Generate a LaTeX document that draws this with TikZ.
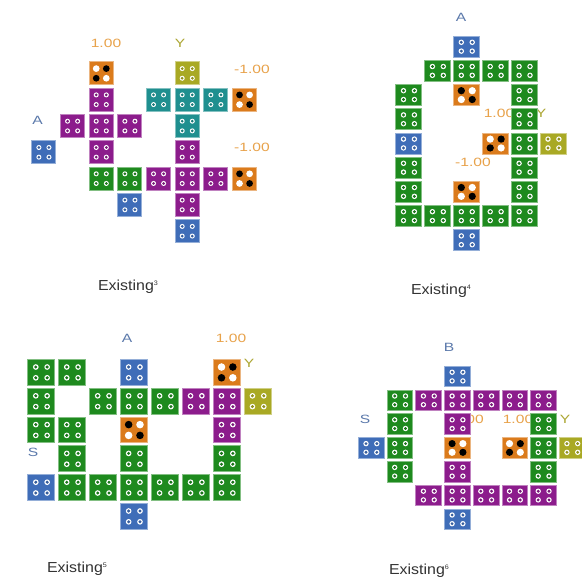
\documentclass[tikz,border=0pt]{standalone}
\usepackage{fontspec}
\setmainfont{Liberation Sans}
\definecolor{tgreen}{HTML}{1E8A1E}
\definecolor{tpurple}{HTML}{8C1C8C}
\definecolor{tblue}{HTML}{3F6DB8}
\definecolor{tteal}{HTML}{1F8F8F}
\definecolor{torange}{HTML}{DB7B1C}
\definecolor{tolive}{HTML}{A9A924}
\definecolor{lorange}{HTML}{E8A24A}
\definecolor{lolive}{HTML}{ACA632}
\definecolor{lblue}{HTML}{5B79AB}
\definecolor{capgray}{HTML}{333333}
\newcommand\Tile[3]{%
 \pgfmathsetmacro\xa{\ox+(#1)*\px}%
 \pgfmathsetmacro\ya{\oy+(#2)*\py}%
 \pgfmathsetmacro\sr{0.105*\tw}%
 \pgfmathsetmacro\si{0.062*\tw}%
 \fill[#3,draw=#3!55!white,line width=0.5pt] (\xa,\ya) rectangle ++(\tw,\tH);
 \foreach \u in {0.3,0.72}{\foreach \v in {0.3,0.72}{
   \fill[white] (\xa+\u*\tw,\ya+\v*\tH) circle[radius=\sr pt];
   \fill[#3!85!black] (\xa+\u*\tw,\ya+\v*\tH) circle[radius=\si pt];
 }}%
}
\newcommand\Dice[3]{%
 \pgfmathsetmacro\xa{\ox+(#1)*\px}%
 \pgfmathsetmacro\ya{\oy+(#2)*\py}%
 \pgfmathsetmacro\dr{0.14*\tw}%
 \ifnum#3=1 \def\ca{white}\def\cb{black}\else\def\ca{black}\def\cb{white}\fi
 \fill[torange,draw=torange!55!white,line width=0.5pt] (\xa,\ya) rectangle ++(\tw,\tH);
 \fill[\ca] (\xa+0.3*\tw,\ya+0.3*\tH) circle[radius=\dr pt];
 \fill[\cb] (\xa+0.72*\tw,\ya+0.3*\tH) circle[radius=\dr pt];
 \fill[\cb] (\xa+0.3*\tw,\ya+0.72*\tH) circle[radius=\dr pt];
 \fill[\ca] (\xa+0.72*\tw,\ya+0.72*\tH) circle[radius=\dr pt];
}
\newcommand\Sup[1]{\raisebox{0.75ex}{\fontsize{6.5}{7}\selectfont #1}}
\tikzset{
 lab/.style={font=\fontsize{12}{14}\selectfont,inner sep=0pt,xscale=1.3},
 olab/.style={lab,text=lorange},
 ylab/.style={lab,text=lolive},
 blab/.style={lab,text=lblue},
 captext/.style={font=\fontsize{14.5}{16}\selectfont,text=capgray,inner sep=0pt,xscale=1.1}
}
\begin{document}
\begin{tikzpicture}[x=1pt,y=-1pt]
\useasboundingbox (0,0) rectangle (582,579);
\fill[white] (0,0) rectangle (582,579);
% ---------- Q1 ----------
\node[olab] (q1l1) at (106,43.5) {1.00};
\node[ylab] (q1y) at (180,43.5) {Y};
\node[olab] (q1l2) at (252,69) {-1.00};
\node[blab] (q1a) at (37.5,120.5) {A};
\node[olab] (q1l3) at (252,147) {-1.00};
\def\ox{31.7}\def\oy{61.7}\def\px{28.66}\def\py{26.3}\def\tw{24}\def\tH{23}
\foreach \c/\r/\k in {5/0/tolive,2/1/tpurple,4/1/tteal,5/1/tteal,6/1/tteal,
  1/2/tpurple,2/2/tpurple,3/2/tpurple,5/2/tteal,0/3/tblue,2/3/tpurple,5/3/tpurple,
  2/4/tgreen,3/4/tgreen,4/4/tpurple,5/4/tpurple,6/4/tpurple,3/5/tblue,5/5/tpurple,5/6/tblue}
  {\Tile{\c}{\r}{\k}}
\Dice{2}{0}{1}\Dice{7}{1}{2}\Dice{7}{4}{2}
\node[captext] (c3) at (128,287) {Existing\Sup{3}};
% ---------- Q2 ----------
\node[blab] (q2a) at (461,17) {A};
\node[olab] (q2l1) at (499,113) {1.00};
\node[ylab] (q2y) at (541,113) {Y};
\node[olab] (q2l2) at (473,162) {-1.00};
\def\ox{395.7}\def\oy{36}\def\px{28.9}\def\py{24.2}\def\tw{26}\def\tH{21}
\foreach \c/\r/\k in {2/0/tblue,1/1/tgreen,2/1/tgreen,3/1/tgreen,4/1/tgreen,
  0/2/tgreen,4/2/tgreen,0/3/tgreen,4/3/tgreen,0/4/tblue,4/4/tgreen,5/4/tolive,
  0/5/tgreen,4/5/tgreen,0/6/tgreen,4/6/tgreen,
  0/7/tgreen,1/7/tgreen,2/7/tgreen,3/7/tgreen,4/7/tgreen,2/8/tblue}
  {\Tile{\c}{\r}{\k}}
\Dice{2}{2}{2}\Dice{3}{4}{1}\Dice{2}{6}{2}
\node[captext] (c4) at (441,291) {Existing\Sup{4}};
% ---------- Q3 ----------
\node[blab] (q3a) at (127,338) {A};
\node[olab] (q3l1) at (231,338) {1.00};
\node[ylab] (q3y) at (249,363.5) {Y};
\node[blab] (q3s) at (33,452) {S};
\def\ox{27.7}\def\oy{359.3}\def\px{30.95}\def\py{28.8}\def\tw{27}\def\tH{25.7}
\foreach \c/\r/\k in {0/0/tgreen,1/0/tgreen,3/0/tblue,
  0/1/tgreen,2/1/tgreen,3/1/tgreen,4/1/tgreen,5/1/tpurple,6/1/tpurple,7/1/tolive,
  0/2/tgreen,1/2/tgreen,6/2/tpurple,1/3/tgreen,3/3/tgreen,6/3/tgreen,
  0/4/tblue,1/4/tgreen,2/4/tgreen,3/4/tgreen,4/4/tgreen,5/4/tgreen,6/4/tgreen,3/5/tblue}
  {\Tile{\c}{\r}{\k}}
\Dice{6}{0}{1}\Dice{3}{2}{2}
\node[captext] (c5) at (77,569) {Existing\Sup{5}};
% ---------- Q4 ----------
\node[blab] (q4b) at (449,347) {B};
\node[blab] (q4s) at (365,419) {S};
\node[olab] (q4l1) at (466,419) {-1.00};
\node[olab] (q4l2) at (518,419) {1.00};
\node[ylab] (q4y) at (565,419) {Y};
\def\ox{358.3}\def\oy{366}\def\px{28.7}\def\py{23.8}\def\tw{25.7}\def\tH{20.7}
\foreach \c/\r/\k in {3/0/tblue,1/1/tgreen,2/1/tpurple,3/1/tpurple,4/1/tpurple,5/1/tpurple,6/1/tpurple,
  1/2/tgreen,3/2/tpurple,6/2/tgreen,0/3/tblue,1/3/tgreen,6/3/tgreen,7/3/tolive,
  1/4/tgreen,3/4/tpurple,6/4/tgreen,
  2/5/tpurple,3/5/tpurple,4/5/tpurple,5/5/tpurple,6/5/tpurple,3/6/tblue}
  {\Tile{\c}{\r}{\k}}
\Dice{3}{3}{2}\Dice{5}{3}{1}
\node[captext] (c6) at (419,571) {Existing\Sup{6}};
\end{tikzpicture}
\end{document}
